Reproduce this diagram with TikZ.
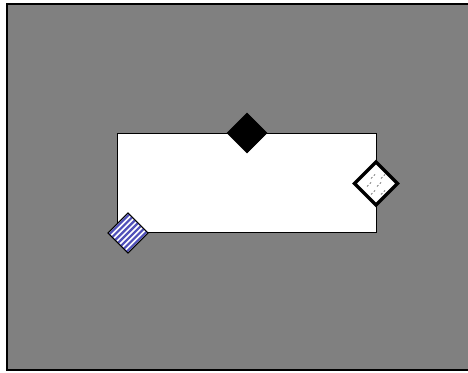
\documentclass[tikz,border=0pt]{standalone}
\usetikzlibrary{shapes.geometric}
\definecolor{bggray}{RGB}{128,128,128}
\definecolor{stripeblue}{RGB}{80,80,185}
\begin{document}
\begin{tikzpicture}[x=1pt,y=-1pt,
  panel/.style={draw=black,line width=1.2pt,fill=bggray},
  mainbox/.style={draw=black,line width=0.7pt,fill=white,minimum width=259pt,minimum height=99pt,inner sep=0pt,outer sep=0pt},
  port/.style={diamond,aspect=1,inner sep=0pt,outer sep=0pt,minimum width=40pt,minimum height=40pt},
  solidport/.style={port,fill=black,draw=black},
  hollowport/.style={port,fill=white,draw=black,line width=3.5pt,minimum width=43pt,minimum height=43pt},
  stripeport/.style={port,fill=white,draw=black,line width=0.8pt},
  stripe/.style={stripeblue,line width=2.2pt},
  speck/.style={gray,line width=0.9pt,dash pattern=on 2pt off 2pt}
]
\useasboundingbox (0,0) rectangle (468,372);
\begin{scope}
\clip (0,0) rectangle (468,372);
\draw[panel] (7,4) rectangle (480,370);
\end{scope}
\node[mainbox] (box) at (246.5,182.5) {};
\node[solidport] (top) at (247,133) {};
\node[hollowport] (right) at (376,183.5) {};
\begin{scope}[shift={(376,183.5)}]
  \foreach \a/\b in {-5/-9,5/-9,-9/-1,1/-1,-5/7,5/7} {
    \draw[speck] (\a,\b+4) -- (\a+4,\b);
  }
\end{scope}
\node[stripeport] (left) at (128,233) {};
\begin{scope}
  \clip (left.north) -- (left.east) -- (left.south) -- (left.west) -- cycle;
  \foreach \k in {-7,...,7} {
    \draw[stripe] ([shift={(\k*2.9-25,\k*2.9+25)}]left.center) -- ([shift={(\k*2.9+25,\k*2.9-25)}]left.center);
  }
\end{scope}
\draw[line width=0.8pt] (left.north) -- (left.east) -- (left.south) -- (left.west) -- cycle;
\end{tikzpicture}
\end{document}
